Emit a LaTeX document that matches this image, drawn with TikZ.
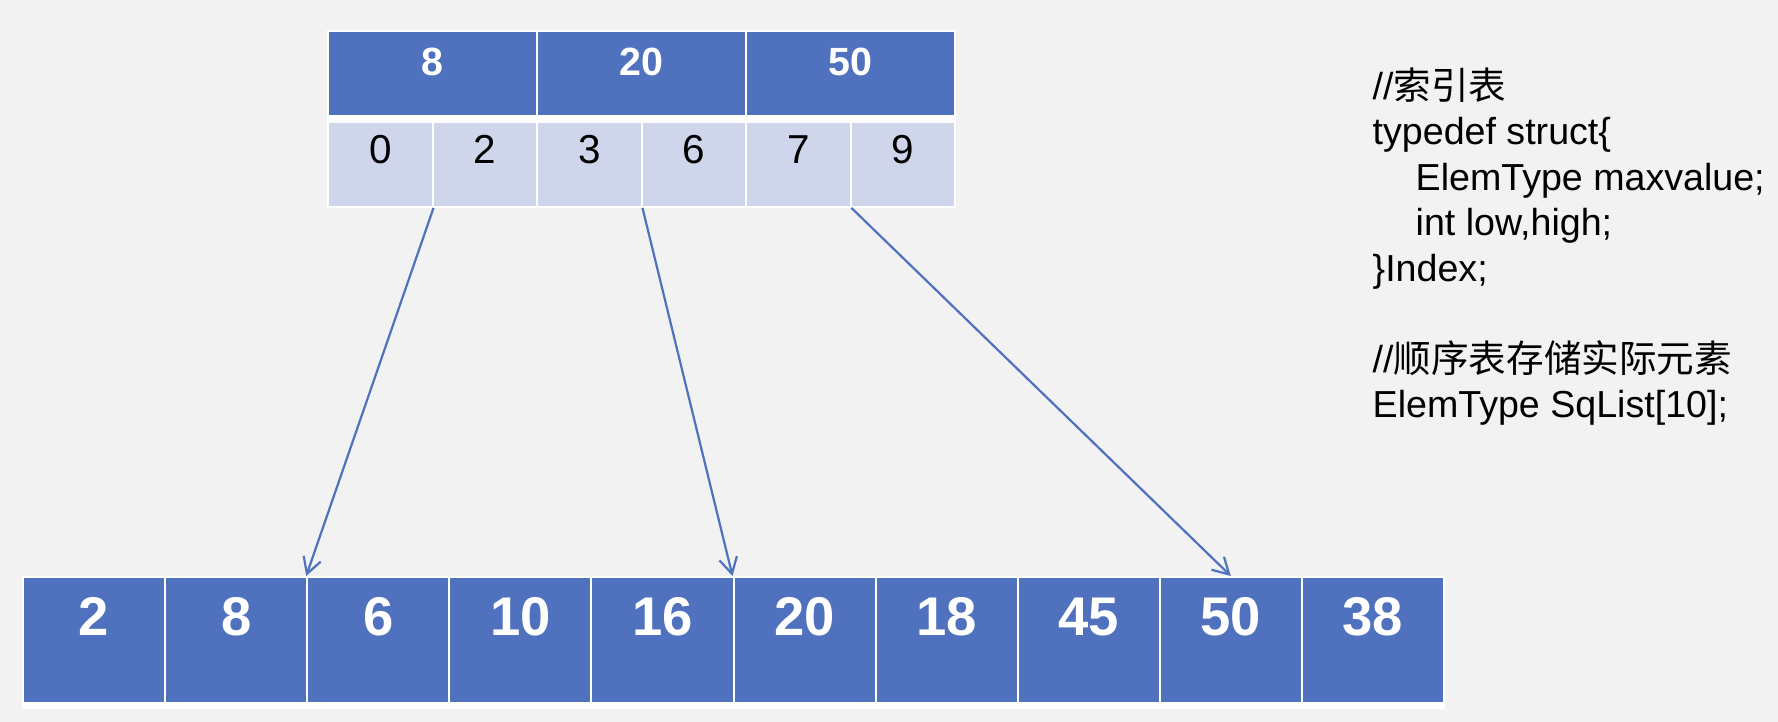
\documentclass[tikz,border=0pt]{standalone}
\usepackage{fontspec}
\setmainfont{Liberation Sans}
\newfontfamily\cjkfont{Noto Sans CJK SC}
\usetikzlibrary{arrows.meta}
\definecolor{bggray}{RGB}{242, 242, 242}
\definecolor{cellblue}{RGB}{80, 114, 190}
\definecolor{celllight}{RGB}{207, 213, 234}
\definecolor{linkblue}{RGB}{79, 113, 190}

\begin{document}
\begin{tikzpicture}[x=0.1mm, y=-0.1mm,
  keycell/.style={draw=white, line width=0.2mm, fill=cellblue, text=white, inner sep=0pt,
    minimum width=20.9mm, minimum height=8.5mm, text height=4.5mm, text depth=4mm,
    font=\fontsize{11.2pt}{13pt}\selectfont\bfseries},
  rangecell/.style={draw=white, line width=0.2mm, fill=celllight, text=black, inner sep=0pt,
    minimum width=10.45mm, minimum height=8.5mm, text height=4.2mm, text depth=4.3mm,
    font=\fontsize{11.5pt}{13pt}\selectfont},
  listcell/.style={draw=white, line width=0.2mm, fill=cellblue, text=white, inner sep=0pt,
    minimum width=14.21mm, minimum height=12.6mm, text height=5.9mm, text depth=6.7mm,
    font=\fontsize{15.5pt}{18pt}\selectfont\bfseries},
  link/.style={draw=linkblue, line width=0.22mm, -{Straight Barb[length=1.6mm, width=1.8mm]}},
  codetext/.style={align=left, inner sep=0pt, anchor=north west,
    font=\fontsize{10.7pt}{12.94pt}\selectfont}
]
  % Background and white table frames
  \fill[bggray] (0, 0) rectangle (1778, 722);
  \useasboundingbox (0, 0) rectangle (1778, 722);
  \fill[white] (327, 30) rectangle (956, 208);
  \fill[white] (22, 576) rectangle (1445, 709);

  % Index table: key row
  \node[keycell] (k1) at (432.5, 73.5) {8};
  \node[keycell] (k2) at (641.5, 73.5) {20};
  \node[keycell] (k3) at (850.5, 73.5) {50};

  % Index table: low/high row
  \node[rangecell] (r1) at (380.25, 164.5) {0};
  \node[rangecell] (r2) at (484.75, 164.5) {2};
  \node[rangecell] (r3) at (589.25, 164.5) {3};
  \node[rangecell] (r4) at (693.75, 164.5) {6};
  \node[rangecell] (r5) at (798.25, 164.5) {7};
  \node[rangecell] (r6) at (902.75, 164.5) {9};

  % Sequential list
  \node[listcell] (s1) at (94.05, 640) {2};
  \node[listcell] (s2) at (236.15, 640) {8};
  \node[listcell] (s3) at (378.25, 640) {6};
  \node[listcell] (s4) at (520.35, 640) {10};
  \node[listcell] (s5) at (662.45, 640) {16};
  \node[listcell] (s6) at (804.55, 640) {20};
  \node[listcell] (s7) at (946.65, 640) {18};
  \node[listcell] (s8) at (1088.75, 640) {45};
  \node[listcell] (s9) at (1230.85, 640) {50};
  \node[listcell] (s10) at (1372.95, 640) {38};

  % Links from index blocks to list
  \draw[link] (r1.south east) -- (s3.north west);
  \draw[link] (r3.south east) -- (s6.north west);
  \draw[link] (r5.south east) -- (s9.north);

  % Code on the right
  \node[codetext] (code) at (1372, 67) {
    //{\cjkfont 索引表}\\
    typedef struct\{\\
    \hspace*{4.3mm}ElemType maxvalue;\\
    \hspace*{4.3mm}int low,high;\\
    \}Index;\\[4.55mm]
    //{\cjkfont 顺序表存储实际元素}\\
    ElemType SqList[10];
  };
\end{tikzpicture}
\end{document}
